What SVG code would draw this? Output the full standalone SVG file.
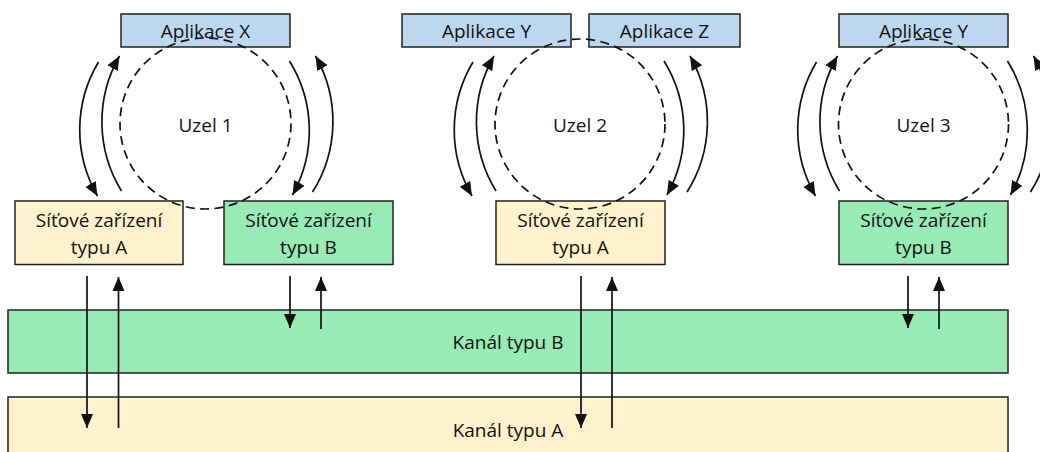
<svg xmlns="http://www.w3.org/2000/svg" width="1040" height="452" viewBox="0 0 1040 452">
  <style>
    text { font-family: "Open Sans", "Liberation Sans", Arial, sans-serif; font-size: 19px; fill: #111; text-anchor: middle; }
    .app { fill: #BDD7EE; stroke: #222; stroke-width: 1.5; }
    .devA { fill: #FFF2CC; stroke: #222; stroke-width: 1.5; }
    .devB { fill: #98EBB5; stroke: #222; stroke-width: 1.5; }
    .node { fill: none; stroke: #111; stroke-width: 1.7; stroke-dasharray: 9 5.5; }
    .arr { fill: none; stroke: #111; stroke-width: 1.7; marker-end: url(#ah); }
  </style>
  <defs>
    <marker id="ah" markerUnits="userSpaceOnUse" markerWidth="14" markerHeight="13" viewBox="0 0 14 13" refX="14" refY="6.5" orient="auto">
      <path d="M0,0.5 L14,6.5 L0,12.5 z" fill="#111"/>
    </marker>
  </defs>

  <g id="kanal-b">
    <rect class="devB" x="8" y="310" width="1000" height="63"/>
    <text x="508" y="349">Kanál typu B</text>
  </g>
  <g id="kanal-a">
    <rect class="devA" x="8" y="397" width="1000" height="70"/>
    <text x="508" y="437">Kanál typu A</text>
  </g>

  <g id="app-x">
    <rect class="app" x="121" y="14" width="169" height="33"/>
    <text x="205.5" y="37.5">Aplikace X</text>
  </g>
  <g id="app-y2">
    <rect class="app" x="402" y="14" width="169" height="33"/>
    <text x="486.5" y="37.5">Aplikace Y</text>
  </g>
  <g id="app-z">
    <rect class="app" x="589" y="14" width="151" height="33"/>
    <text x="664.5" y="37.5">Aplikace Z</text>
  </g>
  <g id="app-y3">
    <rect class="app" x="839" y="14" width="169" height="33"/>
    <text x="923.5" y="37.5">Aplikace Y</text>
  </g>

  <g id="dev-a1">
    <rect class="devA" x="15" y="201" width="168" height="63.5"/>
    <text x="99" y="227">Síťové zařízení</text>
    <text x="99" y="254">typu A</text>
  </g>
  <g id="dev-b1">
    <rect class="devB" x="224" y="201" width="169" height="63.5"/>
    <text x="308.5" y="227">Síťové zařízení</text>
    <text x="308.5" y="254">typu B</text>
  </g>
  <g id="dev-a2">
    <rect class="devA" x="496" y="201" width="169" height="63.5"/>
    <text x="580.5" y="227">Síťové zařízení</text>
    <text x="580.5" y="254">typu A</text>
  </g>
  <g id="dev-b3">
    <rect class="devB" x="839" y="201" width="169" height="63.5"/>
    <text x="923.5" y="227">Síťové zařízení</text>
    <text x="923.5" y="254">typu B</text>
  </g>

  <g id="uzel-1">
    <circle class="node" cx="205.5" cy="123.5" r="85.5"/>
    <text x="205.5" y="131.5">Uzel 1</text>
  </g>
  <g id="uzel-2">
    <circle class="node" cx="580" cy="124" r="85"/>
    <text x="580" y="131.5">Uzel 2</text>
  </g>
  <g id="uzel-3">
    <circle class="node" cx="923.5" cy="124" r="85"/>
    <text x="923.5" y="131.5">Uzel 3</text>
  </g>

  <g id="connectors">
    <!-- Uzel 1 -->
    <path class="arr" d="M98.5,62 A132,132 0 0 0 97.5,196"/>
    <path class="arr" d="M121.5,191 A132,132 0 0 1 119.5,56"/>
    <path class="arr" d="M289.5,61 A132,132 0 0 1 292.5,195"/>
    <path class="arr" d="M312.5,192 A132,132 0 0 0 315.5,56"/>
    <!-- Uzel 2 -->
    <path class="arr" d="M473,62 A132,132 0 0 0 472,196"/>
    <path class="arr" d="M496,191 A132,132 0 0 1 494,56"/>
    <path class="arr" d="M664,61 A132,132 0 0 1 667,195"/>
    <path class="arr" d="M687,192 A132,132 0 0 0 690,56"/>
    <!-- Uzel 3 -->
    <path class="arr" d="M816.5,62 A132,132 0 0 0 815.5,196"/>
    <path class="arr" d="M839.5,191 A132,132 0 0 1 837.5,56"/>
    <path class="arr" d="M1007.5,61 A132,132 0 0 1 1010.5,195"/>
    <path class="arr" d="M1030.5,192 A132,132 0 0 0 1033.5,56"/>
    <!-- vertical links -->
    <path class="arr" d="M87,276 L87,428"/>
    <path class="arr" d="M118.5,428 L118.5,277"/>
    <path class="arr" d="M290,276 L290,328"/>
    <path class="arr" d="M321,329 L321,277"/>
    <path class="arr" d="M581,276 L581,428"/>
    <path class="arr" d="M612,428 L612,277"/>
    <path class="arr" d="M908,276 L908,328"/>
    <path class="arr" d="M939,329 L939,277"/>
  </g>
</svg>
